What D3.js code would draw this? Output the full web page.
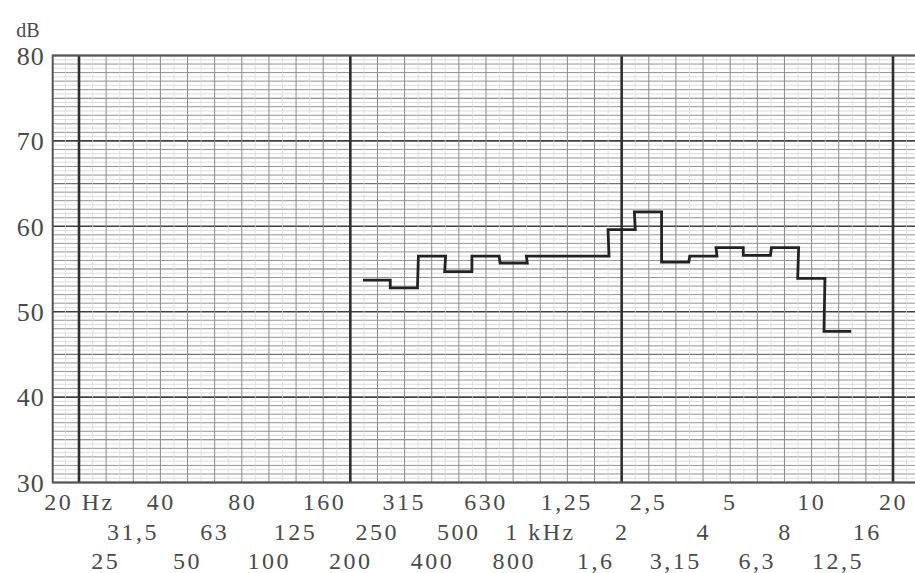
<!DOCTYPE html>
<html>
<head>
<meta charset="utf-8">
<script src="https://cdn.jsdelivr.net/npm/d3@7"></script>
<style>
  html, body { margin: 0; padding: 0; background: #fff; }
  svg { display: block; }
  text { font-family: "Liberation Serif", "DejaVu Serif", serif; fill: #4a4a4a; }
</style>
</head>
<body>
<script>
// ---- data ----
const bandCenters = [250, 315, 400, 500, 630, 800, 1000, 1250, 1600, 2000, 2500, 3150, 4000, 5000, 6300, 8000, 10000, 12500];
const levels      = [53.7, 52.8, 56.5, 54.7, 56.5, 55.7, 56.5, 56.5, 56.5, 59.6, 61.7, 55.8, 56.5, 57.5, 56.6, 57.5, 53.9, 47.7];

const row1Freqs  = [20, 40, 80, 160, 315, 630, 1250, 2500, 5000, 10000, 20000];
const row1Labels = ["20 Hz", "40", "80", "160", "315", "630", "1,25", "2,5", "5", "10", "20"];
const row2Freqs  = [31.5, 63, 125, 250, 500, 1000, 2000, 4000, 8000, 16000];
const row2Labels = ["31,5", "63", "125", "250", "500", "1 kHz", "2", "4", "8", "16"];
const row3Freqs  = [25, 50, 100, 200, 400, 800, 1600, 3150, 6300, 12500];
const row3Labels = ["25", "50", "100", "200", "400", "800", "1,6", "3,15", "6,3", "12,5"];

const yTicks = [30, 40, 50, 60, 70, 80];

// ---- layout ----
const W = 915, H = 573;
const svg = d3.select("body").append("svg").attr("width", W).attr("height", H);

const x = d3.scaleLog().domain([20, 20000]).range([79, 893]);
const y = d3.scaleLinear().domain([30, 80]).range([482.5, 55.5]);
const fMin = 16, fMax = 25000;
const x0 = x(fMin), x1 = x(fMax);

const grid = svg.append("g");

// horizontal grid: half-dB, dB, 5 dB, 10 dB
for (let k = 0; k <= 100; k++) {
  const v = 30 + k * 0.5;
  let stroke = "#cfcfcf", sw = 0.7;
  if (k % 2 === 0) { stroke = "#939393"; sw = 1; }
  if (k % 10 === 0) { stroke = "#747474"; sw = 1.1; }
  if (k % 20 === 0) { stroke = "#404040"; sw = 1.6; }
  grid.append("line")
    .attr("x1", x0).attr("x2", x1)
    .attr("y1", y(v)).attr("y2", y(v))
    .attr("stroke", stroke).attr("stroke-width", sw);
}

// faint sixth-octave lines
for (let k = -1; k <= 31; k++) {
  const f = 20 * Math.pow(10, (k + 0.5) / 10);
  if (f < fMin || f > fMax) continue;
  grid.append("line")
    .attr("x1", x(f)).attr("x2", x(f))
    .attr("y1", y(80)).attr("y2", y(30))
    .attr("stroke", "#d8d8d8").attr("stroke-width", 0.7);
}
// vertical third-octave grid, thick at decades
for (let k = -1; k <= 31; k++) {
  const f = 20 * Math.pow(10, k / 10);
  if (f < fMin * 1.01 || f > fMax) continue;
  const thick = k % 10 === 0;
  grid.append("line")
    .attr("x1", x(f)).attr("x2", x(f))
    .attr("y1", y(80)).attr("y2", y(30))
    .attr("stroke", thick ? "#2e2e2e" : "#8a8a8a")
    .attr("stroke-width", thick ? 2.6 : 1);
}

// border
svg.append("rect")
  .attr("x", x0).attr("y", y(80))
  .attr("width", x1 - x0).attr("height", y(30) - y(80))
  .attr("fill", "none").attr("stroke", "#555").attr("stroke-width", 2);

// step curve
const pts = [];
bandCenters.forEach((c, i) => {
  const lo = c * Math.pow(2, -1 / 6), hi = c * Math.pow(2, 1 / 6);
  pts.push([x(lo), y(levels[i])]);
  pts.push([x(hi), y(levels[i])]);
});
svg.append("path")
  .attr("d", d3.line()(pts))
  .attr("fill", "none")
  .attr("stroke", "#222")
  .attr("stroke-width", 2.8)
  .attr("stroke-linejoin", "miter");

// y axis
const yAxis = svg.append("g")
  .attr("transform", `translate(${x0 - 8},0)`)
  .call(d3.axisLeft(y).tickValues(yTicks).tickSize(0).tickPadding(0));
yAxis.select(".domain").remove();
yAxis.selectAll("text")
  .style("font-family", '"Liberation Serif", serif')
  .style("font-size", "26px")
  .style("letter-spacing", "1px")
  .attr("fill", "#4a4a4a")
  .attr("dy", "0.34em");

svg.append("text")
  .attr("x", 28).attr("y", 37)
  .attr("text-anchor", "middle")
  .style("font-size", "20px")
  .text("dB");

// x axis, three rows of labels
function labelRow(freqs, labels, baseline) {
  const g = svg.append("g")
    .attr("transform", `translate(0,${baseline})`)
    .call(d3.axisBottom(x).tickValues(freqs)
      .tickFormat((d, i) => labels[i]).tickSize(0).tickPadding(0));
  g.select(".domain").remove();
  g.selectAll("text")
    .attr("y", 0).attr("dy", 0)
    .style("font-family", '"Liberation Serif", serif')
    .style("font-size", "24px")
    .style("letter-spacing", "2.5px")
    .attr("fill", "#4a4a4a");
}
labelRow(row1Freqs, row1Labels, 510);
labelRow(row2Freqs, row2Labels, 540);
labelRow(row3Freqs, row3Labels, 569);
</script>
</body>
</html>
